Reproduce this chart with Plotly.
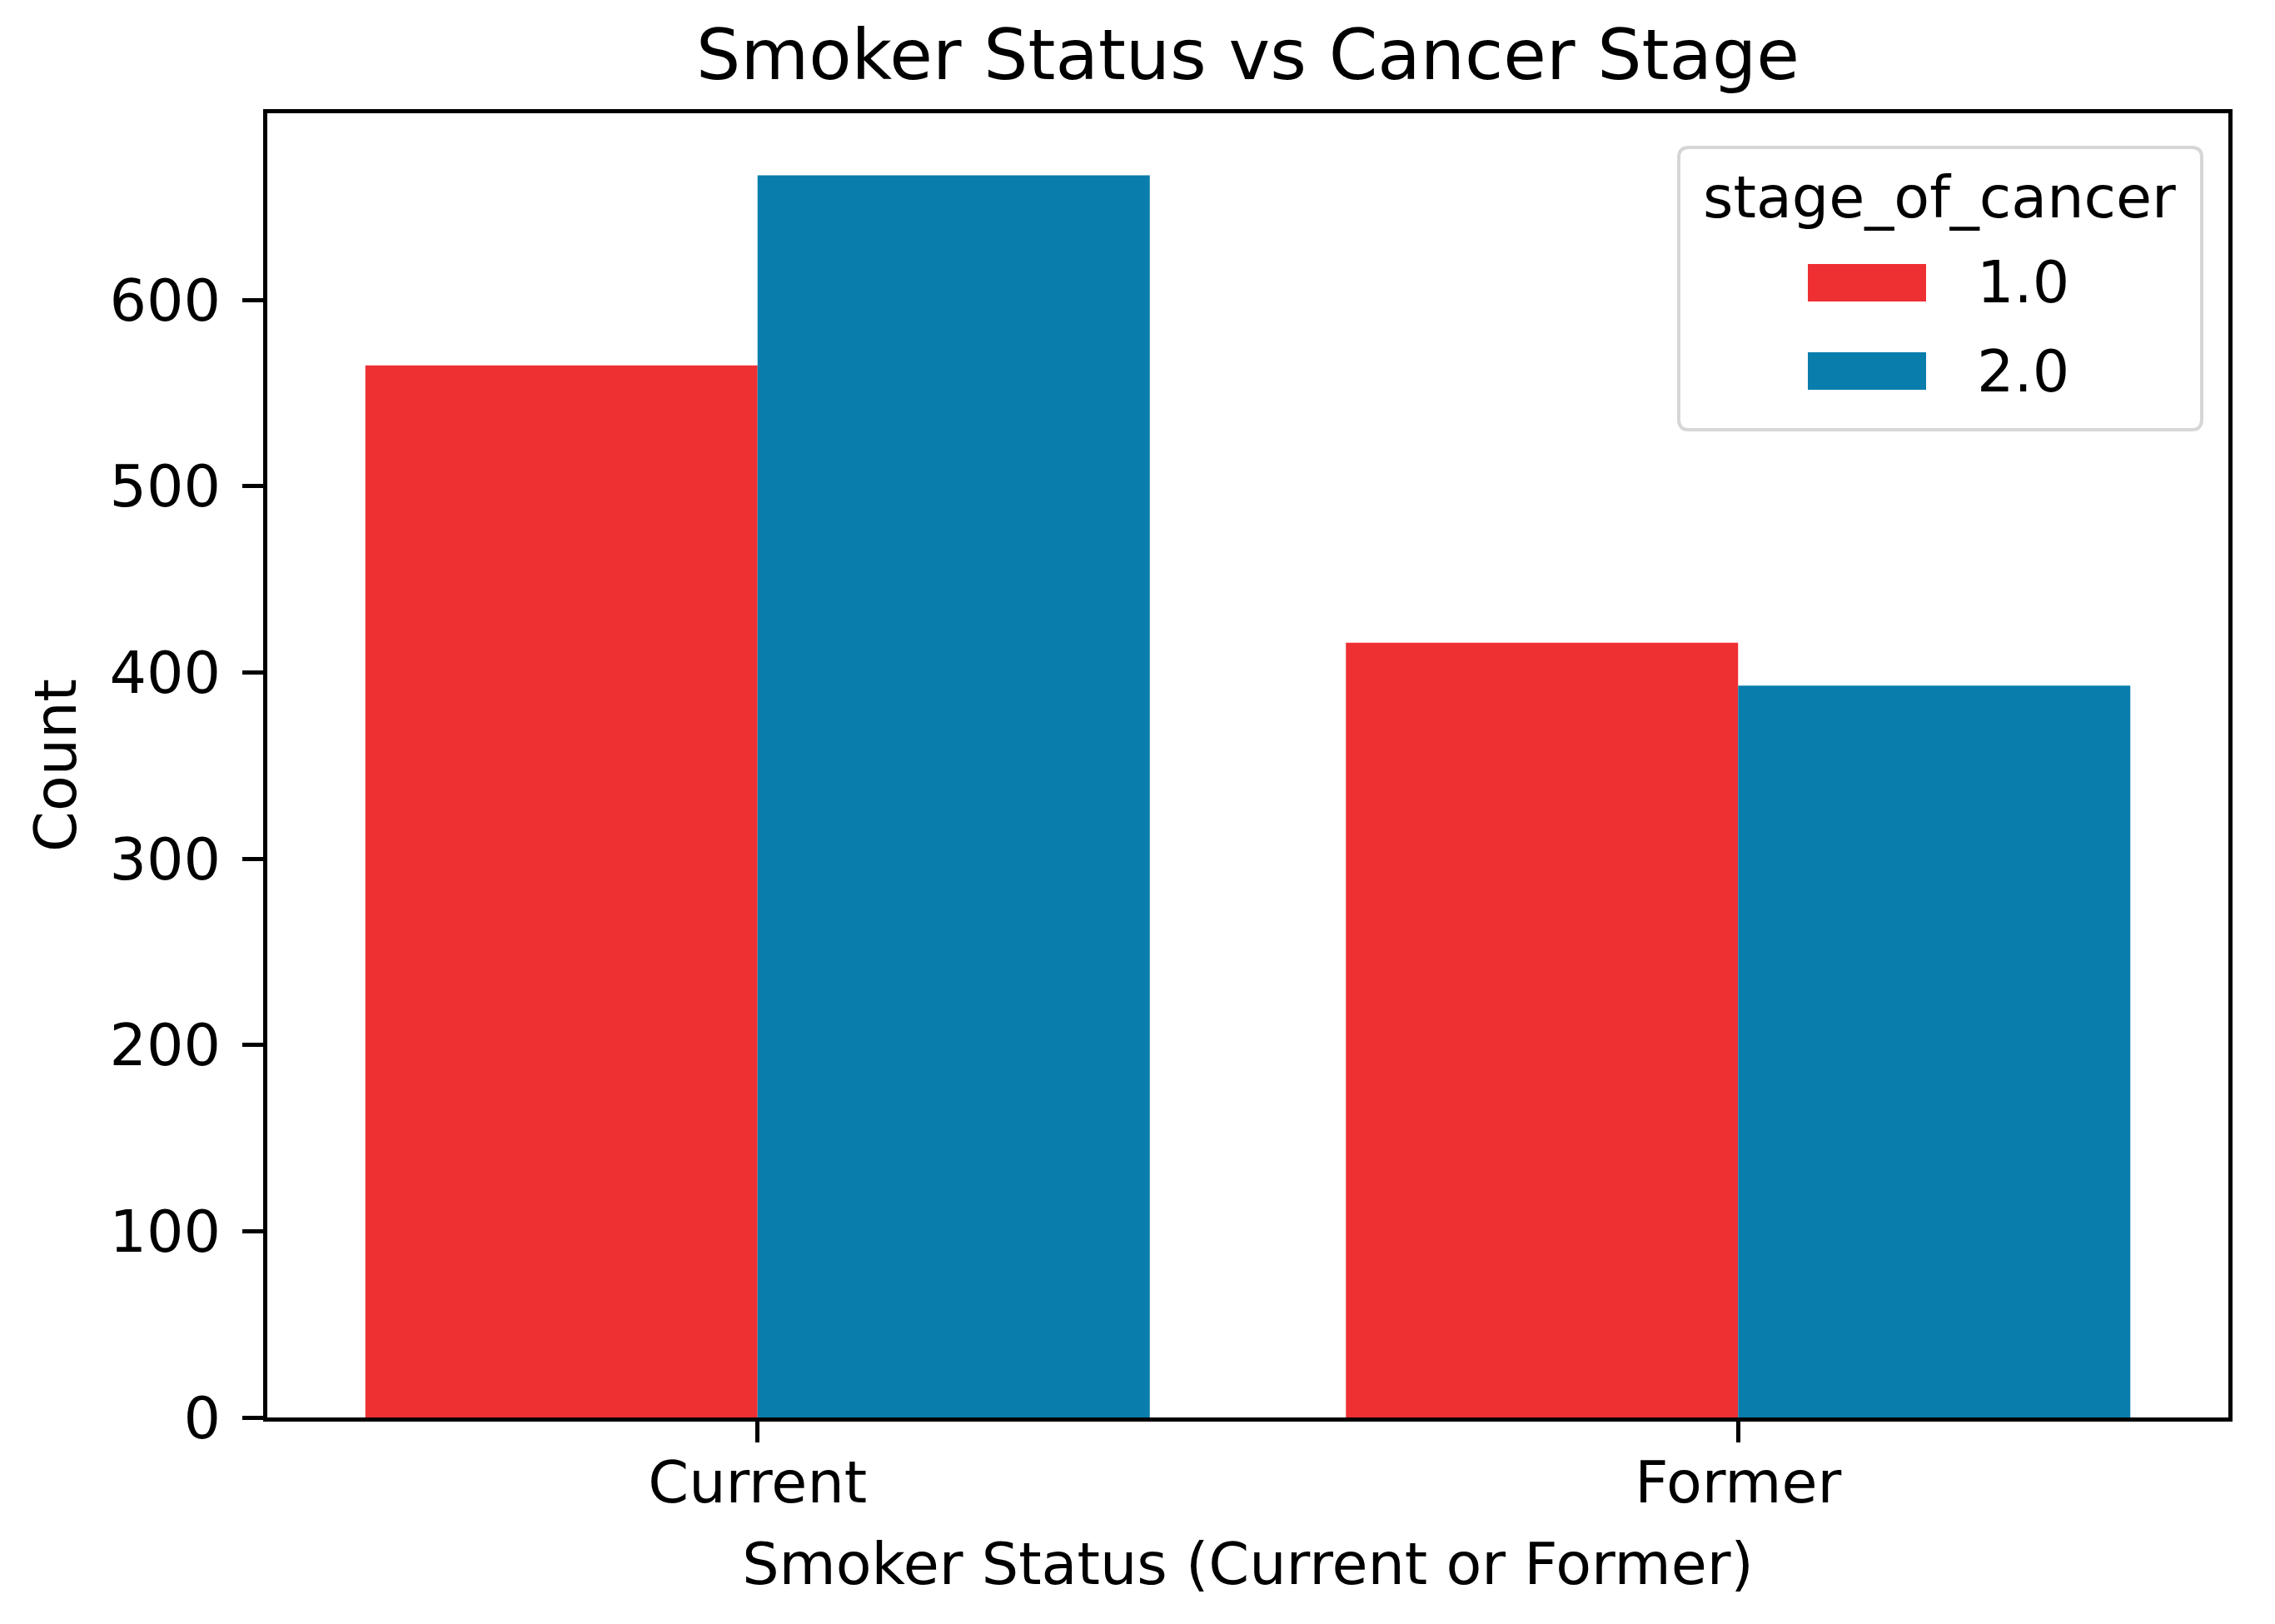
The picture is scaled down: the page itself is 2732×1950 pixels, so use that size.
import plotly.graph_objects as go

# ---- data ----
categories = ["Current", "Former"]
stage_names = ["1.0", "2.0"]
counts_stage1 = [565, 416]
counts_stage2 = [667, 393]
y_tick_vals = [0, 100, 200, 300, 400, 500, 600]
legend_title = "stage_of_cancer"
stage_colors = ["#EE3033", "#097DAC"]

W, H = 2732, 1950
OFF = 8  # browser body margin
# plot area in page pixels
PL, PR, PT, PB = 321, 2676, 136, 1702
L, R, T, B = PL - OFF, W - (PR - OFF), PT - OFF, H - (PB - OFF)
FONT = "DejaVu Sans"
FS = 70

fig = go.Figure()
for name, vals, col in zip(stage_names, [counts_stage1, counts_stage2], stage_colors):
    fig.add_trace(go.Bar(x=categories, y=vals, name=name, marker_color=col,
                         marker_line_width=0, showlegend=False))

axis_style = dict(showline=True, mirror=True, linecolor="black", linewidth=5,
                  ticks="outside", ticklen=25, tickwidth=5, tickcolor="black",
                  tickfont=dict(family=FONT, size=FS, color="black"),
                  showgrid=False, zeroline=False)

ymax = max(counts_stage1 + counts_stage2) * 1.05

fig.update_layout(
    width=W, height=H,
    margin=dict(l=L, r=R, t=T, b=B, autoexpand=False),
    paper_bgcolor="white", plot_bgcolor="white",
    barmode="group", bargap=0.2, bargroupgap=0,
    font=dict(family=FONT, size=FS, color="black"),
    title=dict(text="Smoker Status vs Cancer Stage", x=(L + (W - R)) / 2 / W, xanchor="center",
               y=1 - 58 / H, yanchor="middle", yref="container",
               font=dict(family=FONT, size=84, color="black")),
    xaxis=dict(type="category", range=[-0.5, 1.5], ticklabelstandoff=-12,
               title=dict(text="Smoker Status (Current or Former)", standoff=34,
                          font=dict(family=FONT, size=FS, color="black")),
               **axis_style),
    yaxis=dict(range=[0, ymax], tickvals=y_tick_vals, ticklabelstandoff=12,
               title=dict(text="Count", standoff=18,
                          font=dict(family=FONT, size=FS, color="black")),
               **axis_style),
)

# ---- legend drawn in paper space (page-pixel helpers) ----
PW, PH = PR - PL, PB - PT
def px_x(px):
    return (px - PL) / PW
def px_y(py):
    return (PB - py) / PH

def rounded_rect(x0, y0, x1, y1, r):
    rx, ry = r / PW, r / PH
    X0, X1 = px_x(x0), px_x(x1)
    Y0, Y1 = px_y(y0), px_y(y1)  # Y0 top, Y1 bottom
    return (f"M{X0+rx},{Y0} L{X1-rx},{Y0} Q{X1},{Y0} {X1},{Y0-ry} "
            f"L{X1},{Y1+ry} Q{X1},{Y1} {X1-rx},{Y1} L{X0+rx},{Y1} "
            f"Q{X0},{Y1} {X0},{Y1+ry} L{X0},{Y0-ry} Q{X0},{Y0} {X0+rx},{Y0} Z")

fig.add_shape(type="path", xref="paper", yref="paper",
              path=rounded_rect(2016, 177, 2644, 516, 12),
              fillcolor="rgba(255,255,255,0.8)", line=dict(color="#d6d6d6", width=4))
fig.add_annotation(text=legend_title, xref="paper", yref="paper",
                   x=px_x(2329), y=px_y(237), xanchor="center", yanchor="middle",
                   showarrow=False, font=dict(family=FONT, size=FS, color="black"))
swatch_rows = [(317, 362), (423, 468)]
for (ya, yb), name, col in zip(swatch_rows, stage_names, stage_colors):
    fig.add_shape(type="rect", xref="paper", yref="paper",
                  x0=px_x(2171), x1=px_x(2313), y0=px_y(ya), y1=px_y(yb),
                  fillcolor=col, line=dict(width=0))
    fig.add_annotation(text=name, xref="paper", yref="paper",
                       x=px_x(2372), y=px_y((ya + yb) / 2), xanchor="left", yanchor="middle",
                       showarrow=False, font=dict(family=FONT, size=FS, color="black"))

fig.write_html("out.html")
